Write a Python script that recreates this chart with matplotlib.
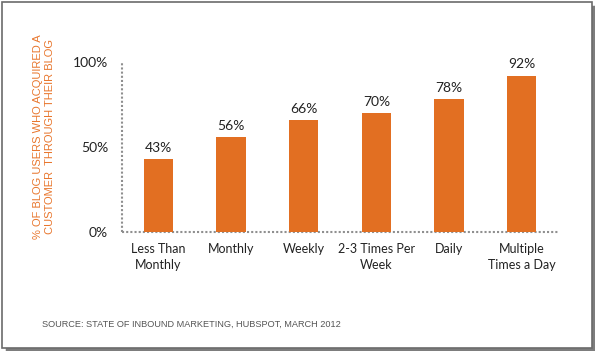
import matplotlib
matplotlib.use("Agg")
import matplotlib.pyplot as plt
from matplotlib.patches import Rectangle

categories = ["Less Than\nMonthly", "Monthly", "Weekly", "2-3 Times Per\nWeek", "Daily", "Multiple\nTimes a Day"]
values = [43, 56, 66, 70, 78, 92]
yticks = [0, 50, 100]
ytick_labels = ["0%", "50%", "100%"]

W, H = 600, 357
fig = plt.figure(figsize=(W/100, H/100), dpi=100)
fig.patch.set_facecolor("white")

# frame with shadow
def px(x, y, w, h):
    return (x/W, 1 - (y+h)/H, w/W, h/H)
for i, a in enumerate([0.12, 0.2, 0.3]):
    x, y, w, h = px(5+i*0.7, 5+i*0.7, 590-i*0.7, 346-i*0.7)
    fig.patches.append(Rectangle((x, y), w, h, transform=fig.transFigure,
                                 facecolor=(0, 0, 0, a), edgecolor="none", zorder=0))
x, y, w, h = px(1.5, 1.5, 590, 346.5)
fig.patches.append(Rectangle((x, y), w, h, transform=fig.transFigure,
                             facecolor="white", edgecolor="#6b6b6b", linewidth=1.2, zorder=1))

ax = fig.add_axes([122/W, 1-232/H, (558-122)/W, (232-62)/H])
ax.set_zorder(2)
ax.patch.set_alpha(0)
xs = range(len(categories))
bars = ax.bar(xs, values, width=0.4, color="#E26F22", zorder=3)
ax.set_xlim(-0.5, len(categories)-0.5)
ax.set_ylim(0, 100)
for b, v in zip(bars, values):
    ax.text(b.get_x()+b.get_width()/2, v + 3, f"{v}%", ha="center", va="bottom",
            fontsize=10, color="#222222", family="Lato")

for s in ["top", "right"]:
    ax.spines[s].set_visible(False)
for s in ["left", "bottom"]:
    ax.spines[s].set_linestyle((0, (1, 1)))
    ax.spines[s].set_color("#8f8f8f")
    ax.spines[s].set_linewidth(1.5)
    ax.spines[s].set_capstyle("butt")

ax.set_yticks(yticks)
ax.set_yticklabels(ytick_labels, fontsize=10, color="#222222", family="Lato")
ax.set_xticks(list(xs))
ax.set_xticklabels(categories, fontsize=9, color="#222222", family="Lato", linespacing=1.35)
ax.tick_params(axis="both", length=0)
ax.tick_params(axis="y", pad=10)
ax.tick_params(axis="x", pad=8)

fig.text(44/W, 1-137/H, "% OF BLOG USERS WHO ACQUIRED A\nCUSTOMER  THROUGH THEIR BLOG",
         rotation=90, ha="center", va="center", fontsize=8, color="#E8762D",
         family="Liberation Sans", linespacing=1.35, zorder=5)
fig.text(42/W, 1-324/H, "SOURCE: STATE OF INBOUND MARKETING, HUBSPOT, MARCH 2012",
         ha="left", va="center", fontsize=6.6, color="#555555", family="Liberation Sans", zorder=5)

fig.savefig("out.png", dpi=100)
